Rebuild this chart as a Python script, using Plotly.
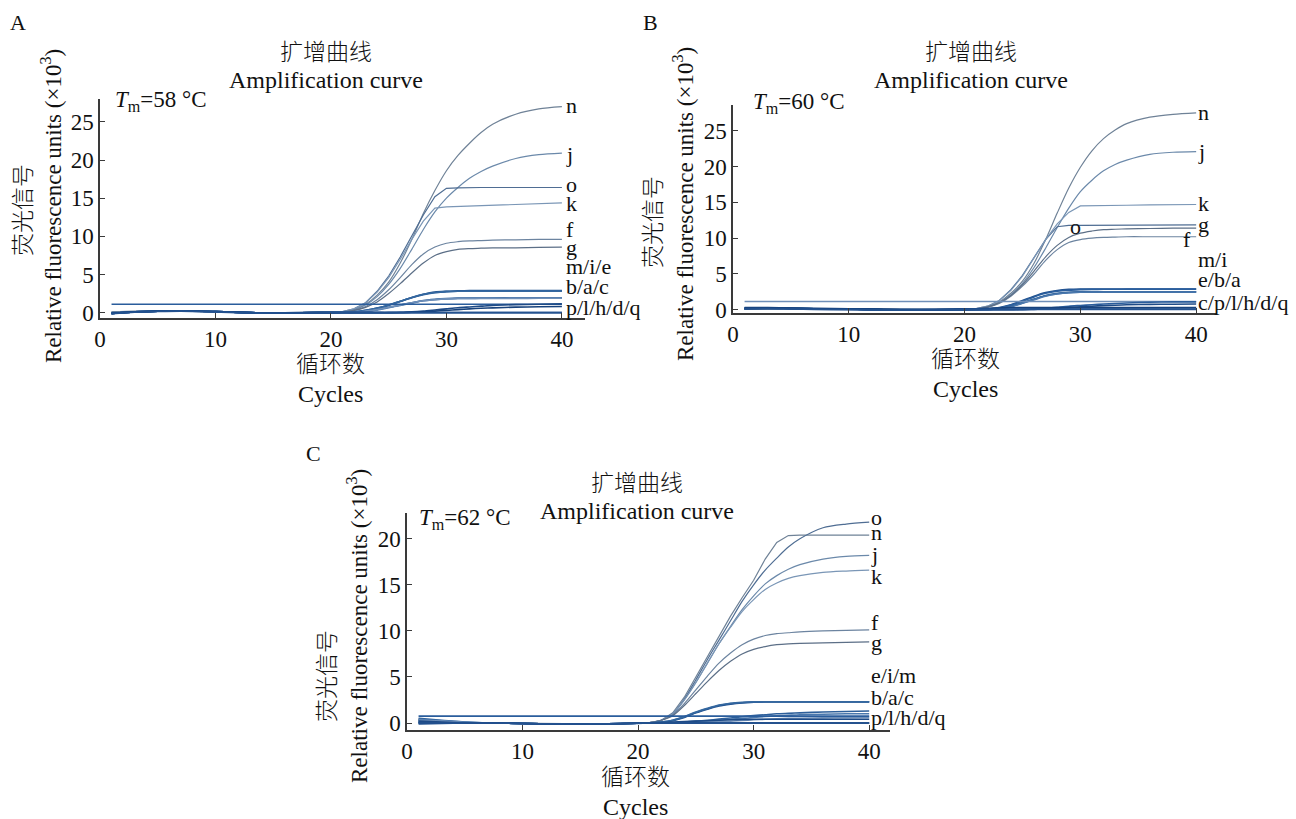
import plotly.graph_objects as go

# ---------------- data (relative fluorescence units, x10^3) ----------------
CYCLES = [1, 3, 5, 7, 10, 13, 16, 19, 21, 22, 23, 24, 25, 26, 27, 28, 29, 30, 31, 32, 33, 34, 36, 38, 40]

# Panel A  (Tm = 58 °C)
A_n = [0.1, 0.2, 0.2, 0.2, 0.1, 0.0, 0.0, 0.05, 0.1, 0.4, 1.1, 2.3, 4.0, 6.5, 9.6, 13.0, 16.0, 18.6, 20.6, 22.2, 23.6, 24.7, 26.0, 26.7, 27.0]
A_j = [0.1, 0.1, 0.2, 0.2, 0.1, 0.0, 0.0, 0.05, 0.1, 0.4, 1.0, 2.1, 3.7, 5.8, 8.3, 10.9, 13.2, 15.0, 16.4, 17.6, 18.5, 19.2, 20.2, 20.7, 20.9]
A_o = [0.0, 0.1, 0.2, 0.2, 0.1, 0.0, 0.0, 0.05, 0.15, 0.5, 1.3, 2.8, 4.8, 7.3, 10.0, 12.8, 15.2, 16.3, 16.35, 16.4, 16.4, 16.4, 16.4, 16.4, 16.4]
A_k = [0.0, 0.1, 0.2, 0.2, 0.1, 0.0, 0.0, 0.05, 0.15, 0.5, 1.3, 2.7, 4.6, 7.0, 9.6, 12.0, 13.7, 13.85, 13.9, 14.0, 14.05, 14.1, 14.2, 14.3, 14.4]
A_f = [0.0, 0.1, 0.2, 0.2, 0.1, 0.0, 0.0, 0.05, 0.1, 0.3, 0.8, 1.7, 3.0, 4.6, 6.3, 7.7, 8.6, 9.1, 9.3, 9.4, 9.45, 9.5, 9.55, 9.6, 9.6]
A_g = [0.0, 0.1, 0.2, 0.2, 0.1, 0.0, 0.0, 0.05, 0.1, 0.3, 0.7, 1.4, 2.5, 3.8, 5.2, 6.5, 7.5, 8.0, 8.3, 8.4, 8.45, 8.5, 8.5, 8.55, 8.6]
A_m = [-0.1, 0.1, 0.2, 0.25, 0.15, 0.0, -0.05, 0.0, 0.05, 0.1, 0.3, 0.6, 1.0, 1.5, 2.0, 2.4, 2.7, 2.8, 2.85, 2.9, 2.9, 2.9, 2.9, 2.9, 2.9]
A_i = [-0.1, 0.1, 0.2, 0.25, 0.15, 0.0, -0.05, 0.0, 0.05, 0.1, 0.25, 0.55, 0.95, 1.45, 1.95, 2.35, 2.6, 2.75, 2.8, 2.82, 2.84, 2.85, 2.85, 2.85, 2.85]
A_e = [-0.1, 0.1, 0.2, 0.25, 0.15, 0.0, -0.05, 0.0, 0.05, 0.1, 0.3, 0.6, 1.0, 1.5, 2.0, 2.4, 2.65, 2.75, 2.8, 2.8, 2.8, 2.8, 2.8, 2.8, 2.8]
A_b = [-0.1, 0.1, 0.2, 0.25, 0.15, 0.0, -0.05, 0.0, 0.05, 0.05, 0.2, 0.4, 0.7, 1.0, 1.3, 1.6, 1.75, 1.85, 1.9, 1.9, 1.9, 1.92, 1.94, 1.95, 1.95]
A_a = [-0.1, 0.1, 0.2, 0.25, 0.15, 0.0, -0.05, 0.0, 0.05, 0.05, 0.15, 0.35, 0.65, 0.95, 1.25, 1.55, 1.7, 1.8, 1.85, 1.87, 1.88, 1.9, 1.9, 1.9, 1.9]
A_c = [-0.1, 0.1, 0.2, 0.25, 0.15, 0.0, -0.05, 0.0, 0.05, 0.05, 0.2, 0.4, 0.7, 1.0, 1.3, 1.55, 1.7, 1.8, 1.85, 1.85, 1.85, 1.86, 1.87, 1.88, 1.88]
A_p = [1.1, 1.1, 1.1, 1.1, 1.1, 1.1, 1.1, 1.1, 1.1, 1.1, 1.1, 1.1, 1.1, 1.1, 1.1, 1.1, 1.1, 1.1, 1.1, 1.1, 1.1, 1.1, 1.1, 1.1, 1.1]
A_l = [-0.1, 0.1, 0.2, 0.25, 0.15, 0.0, -0.05, 0.0, 0.0, 0.0, 0.0, 0.0, 0.0, 0.05, 0.1, 0.2, 0.35, 0.5, 0.65, 0.75, 0.85, 0.95, 1.05, 1.1, 1.15]
A_h = [-0.1, 0.1, 0.2, 0.25, 0.15, 0.0, -0.05, 0.0, 0.0, 0.0, 0.0, 0.0, 0.0, 0.0, 0.05, 0.1, 0.2, 0.3, 0.4, 0.5, 0.57, 0.63, 0.72, 0.77, 0.8]
A_d = [-0.1, 0.1, 0.2, 0.25, 0.15, 0.0, -0.05, 0.0, 0.0, 0.0, 0.0, 0.0, 0.0, 0.0, 0.0, 0.0, 0.0, 0.0, 0.0, 0.0, 0.0, 0.0, 0.0, 0.0, 0.0]
A_q = [-0.15, 0.05, 0.15, 0.2, 0.1, -0.05, -0.05, -0.05, 0.0, 0.0, 0.0, 0.0, 0.0, 0.0, 0.0, 0.0, 0.0, 0.0, 0.0, 0.0, 0.0, 0.0, 0.0, 0.0, 0.0]

# Panel B  (Tm = 60 °C)
B_n = [0.1, 0.15, 0.2, 0.15, 0.1, 0.05, 0.0, 0.05, 0.1, 0.4, 1.1, 2.3, 4.0, 6.5, 9.8, 13.5, 17.0, 19.9, 22.2, 23.9, 25.1, 26.0, 26.9, 27.3, 27.5]
B_j = [0.1, 0.15, 0.2, 0.15, 0.1, 0.05, 0.0, 0.05, 0.1, 0.4, 1.0, 2.1, 3.7, 5.9, 8.6, 11.5, 14.2, 16.5, 18.1, 19.4, 20.3, 20.9, 21.7, 22.0, 22.1]
B_k = [0.1, 0.15, 0.2, 0.15, 0.1, 0.05, 0.0, 0.05, 0.15, 0.5, 1.3, 2.7, 4.7, 7.2, 9.8, 12.0, 13.6, 14.5, 14.55, 14.6, 14.6, 14.6, 14.65, 14.7, 14.7]
B_o = [0.1, 0.15, 0.2, 0.15, 0.1, 0.05, 0.0, 0.05, 0.15, 0.5, 1.3, 2.8, 4.8, 7.3, 9.8, 11.6, 11.8, 11.8, 11.8, 11.8, 11.8, 11.85, 11.85, 11.85, 11.85]
B_g = [0.1, 0.15, 0.2, 0.15, 0.1, 0.05, 0.0, 0.05, 0.1, 0.4, 1.0, 2.0, 3.5, 5.4, 7.4, 9.0, 10.1, 10.7, 11.0, 11.2, 11.25, 11.3, 11.35, 11.4, 11.4]
B_f = [0.1, 0.15, 0.2, 0.15, 0.1, 0.05, 0.0, 0.05, 0.1, 0.4, 0.9, 1.9, 3.3, 5.0, 6.9, 8.4, 9.4, 9.8, 10.0, 10.1, 10.15, 10.2, 10.2, 10.2, 10.2]
B_m = [0.2, 0.25, 0.2, 0.15, 0.1, 0.0, -0.05, 0.0, 0.05, 0.1, 0.3, 0.7, 1.3, 1.9, 2.4, 2.7, 2.85, 2.9, 2.9, 2.9, 2.9, 2.9, 2.9, 2.9, 2.9]
B_i = [0.2, 0.25, 0.2, 0.15, 0.1, 0.0, -0.05, 0.0, 0.05, 0.1, 0.25, 0.65, 1.2, 1.8, 2.3, 2.6, 2.75, 2.82, 2.85, 2.86, 2.87, 2.88, 2.88, 2.88, 2.88]
B_e = [0.2, 0.25, 0.2, 0.15, 0.1, 0.0, -0.05, 0.0, 0.05, 0.05, 0.2, 0.5, 1.0, 1.5, 2.0, 2.3, 2.45, 2.5, 2.5, 2.5, 2.5, 2.5, 2.5, 2.5, 2.5]
B_b = [0.2, 0.25, 0.2, 0.15, 0.1, 0.0, -0.05, 0.0, 0.05, 0.05, 0.2, 0.45, 0.95, 1.45, 1.95, 2.25, 2.4, 2.47, 2.5, 2.5, 2.5, 2.5, 2.5, 2.5, 2.5]
B_a = [0.2, 0.25, 0.2, 0.15, 0.1, 0.0, -0.05, 0.0, 0.05, 0.05, 0.15, 0.4, 0.9, 1.4, 1.9, 2.2, 2.38, 2.45, 2.48, 2.48, 2.48, 2.48, 2.48, 2.48, 2.48]
B_c = [1.15, 1.15, 1.15, 1.15, 1.15, 1.15, 1.15, 1.15, 1.15, 1.15, 1.15, 1.15, 1.15, 1.15, 1.15, 1.15, 1.15, 1.15, 1.15, 1.15, 1.15, 1.15, 1.15, 1.15, 1.15]
B_p = [0.2, 0.25, 0.2, 0.15, 0.1, 0.0, -0.05, 0.0, 0.0, 0.0, 0.0, 0.0, 0.05, 0.1, 0.2, 0.35, 0.5, 0.6, 0.7, 0.8, 0.88, 0.95, 1.05, 1.1, 1.1]
B_l = [0.2, 0.25, 0.2, 0.15, 0.1, 0.0, -0.05, 0.0, 0.0, 0.0, 0.0, 0.0, 0.0, 0.05, 0.1, 0.2, 0.3, 0.4, 0.5, 0.58, 0.64, 0.7, 0.75, 0.78, 0.8]
B_h = [0.3, 0.3, 0.25, 0.2, 0.15, 0.1, 0.05, 0.1, 0.15, 0.2, 0.25, 0.3, 0.3, 0.3, 0.3, 0.3, 0.3, 0.3, 0.3, 0.3, 0.3, 0.3, 0.3, 0.3, 0.3]
B_d = [0.15, 0.2, 0.15, 0.1, 0.05, 0.0, 0.0, 0.05, 0.1, 0.1, 0.1, 0.1, 0.1, 0.1, 0.1, 0.1, 0.1, 0.1, 0.1, 0.1, 0.1, 0.1, 0.1, 0.1, 0.1]
B_q = [0.1, 0.15, 0.1, 0.05, 0.0, -0.05, -0.05, 0.0, 0.05, 0.05, 0.05, 0.05, 0.05, 0.05, 0.05, 0.05, 0.05, 0.05, 0.05, 0.05, 0.05, 0.05, 0.05, 0.05, 0.05]

# Panel C  (Tm = 62 °C)
C_o = [0.4, 0.2, 0.05, 0.0, -0.05, -0.1, -0.1, -0.05, 0.05, 0.3, 1.0, 2.6, 4.7, 6.9, 9.0, 11.1, 13.2, 15.0, 16.6, 17.9, 19.1, 20.0, 21.2, 21.6, 21.8]
C_n = [0.3, 0.15, 0.0, 0.0, -0.05, -0.1, -0.1, -0.05, 0.05, 0.3, 1.1, 2.8, 5.0, 7.3, 9.4, 11.6, 13.6, 15.5, 17.8, 19.6, 20.35, 20.4, 20.4, 20.4, 20.4]
C_j = [0.3, 0.15, 0.0, 0.0, -0.05, -0.1, -0.1, -0.05, 0.05, 0.3, 1.0, 2.5, 4.4, 6.5, 8.6, 10.5, 12.3, 13.8, 15.1, 16.0, 16.7, 17.2, 17.8, 18.1, 18.2]
C_k = [0.3, 0.15, 0.0, 0.0, -0.05, -0.1, -0.1, -0.05, 0.05, 0.3, 1.0, 2.5, 4.4, 6.5, 8.6, 10.4, 12.1, 13.4, 14.5, 15.2, 15.7, 16.0, 16.35, 16.5, 16.6]
C_f = [0.3, 0.15, 0.0, 0.0, -0.05, -0.1, -0.1, -0.05, 0.05, 0.3, 0.9, 2.1, 3.6, 5.1, 6.5, 7.6, 8.5, 9.1, 9.5, 9.7, 9.8, 9.9, 10.0, 10.05, 10.1]
C_g = [0.3, 0.15, 0.0, 0.0, -0.05, -0.1, -0.1, -0.05, 0.05, 0.3, 0.8, 1.9, 3.2, 4.5, 5.7, 6.7, 7.5, 8.0, 8.3, 8.5, 8.6, 8.65, 8.7, 8.75, 8.8]
C_e = [0.1, 0.05, 0.0, 0.0, -0.05, -0.1, -0.1, -0.05, 0.0, 0.1, 0.3, 0.7, 1.2, 1.6, 1.95, 2.15, 2.25, 2.3, 2.3, 2.3, 2.3, 2.3, 2.3, 2.3, 2.3]
C_i = [0.1, 0.05, 0.0, 0.0, -0.05, -0.1, -0.1, -0.05, 0.0, 0.1, 0.3, 0.65, 1.15, 1.55, 1.9, 2.1, 2.2, 2.27, 2.3, 2.3, 2.3, 2.3, 2.3, 2.3, 2.3]
C_m = [0.1, 0.05, 0.0, 0.0, -0.05, -0.1, -0.1, -0.05, 0.0, 0.05, 0.25, 0.6, 1.1, 1.5, 1.85, 2.05, 2.18, 2.25, 2.28, 2.28, 2.28, 2.28, 2.28, 2.28, 2.28]
C_b = [0.5, 0.3, 0.1, 0.0, -0.05, -0.1, -0.1, -0.05, 0.0, 0.0, 0.05, 0.1, 0.2, 0.3, 0.42, 0.55, 0.68, 0.8, 0.9, 1.0, 1.05, 1.1, 1.2, 1.25, 1.3]
C_a = [0.4, 0.25, 0.1, 0.0, -0.05, -0.1, -0.1, -0.05, 0.0, 0.0, 0.0, 0.05, 0.1, 0.2, 0.3, 0.4, 0.5, 0.6, 0.7, 0.78, 0.84, 0.9, 0.95, 1.0, 1.0]
C_c = [0.3, 0.2, 0.05, 0.0, -0.05, -0.1, -0.1, -0.05, 0.0, 0.0, 0.0, 0.0, 0.05, 0.1, 0.15, 0.2, 0.28, 0.35, 0.4, 0.45, 0.5, 0.52, 0.56, 0.58, 0.6]
C_p = [0.75, 0.75, 0.75, 0.75, 0.75, 0.75, 0.75, 0.75, 0.75, 0.75, 0.75, 0.75, 0.75, 0.75, 0.75, 0.75, 0.75, 0.75, 0.75, 0.75, 0.75, 0.75, 0.75, 0.75, 0.75]
C_l = [0.2, 0.1, 0.0, 0.0, -0.05, -0.1, -0.1, -0.05, 0.0, 0.05, 0.1, 0.15, 0.2, 0.25, 0.3, 0.35, 0.38, 0.4, 0.4, 0.4, 0.4, 0.4, 0.4, 0.4, 0.4]
C_h = [0.0, 0.0, 0.0, 0.0, -0.05, -0.1, -0.1, -0.05, 0.0, 0.0, 0.0, 0.0, 0.0, 0.0, 0.0, 0.0, 0.0, 0.0, 0.0, 0.0, 0.0, 0.0, 0.0, 0.0, 0.0]
C_d = [-0.1, -0.05, 0.0, 0.0, -0.05, -0.1, -0.1, -0.05, 0.0, 0.0, 0.0, 0.0, 0.0, 0.0, 0.0, 0.0, 0.0, 0.0, 0.0, 0.0, 0.0, 0.0, 0.0, 0.0, 0.0]
C_q = [0.0, 0.0, 0.0, 0.0, -0.05, -0.1, -0.1, -0.05, 0.0, 0.0, 0.0, 0.0, 0.0, 0.0, 0.0, 0.0, 0.0, 0.0, 0.0, 0.0, 0.0, 0.0, 0.0, 0.0, 0.0]

# curve labels at the right end of each panel
A_LABELS = ["n", "j", "o", "k", "f", "g", "m/i/e", "b/a/c", "p/l/h/d/q"]
A_LABEL_Y = [27.2, 20.7, 16.8, 14.3, 10.9, 8.6, 6.0, 3.4, 0.65]
B_LABELS = ["n", "j", "k", "g", "m/i", "e/b/a", "c/p/l/h/d/q"]
B_LABEL_Y = [27.5, 22.1, 14.8, 11.9, 7.0, 4.2, 1.0]
C_LABELS = ["o", "n", "j", "k", "f", "g", "e/i/m", "b/a/c", "p/l/h/d/q"]
C_LABEL_Y = [22.3, 20.7, 18.3, 15.9, 10.9, 8.7, 5.2, 2.8, 0.65]
TM_VALUES = ["58", "60", "62"]

# ---------------- styles ----------------
SERIF = "Liberation Serif, Noto Sans CJK SC, serif"
BIG = {"n": "#6f8297", "j": "#6b89aa", "o": "#4f6d93", "k": "#7a96b6", "f": "#6c84a0", "g": "#5c6f87"}
LOW = {"m": "#1f4f8c", "i": "#2b5f9e", "e": "#35689f", "b": "#2d5f9a", "a": "#4a78ad", "c": "#6f8fb8",
       "p": "#2a5d9c", "l": "#1d4a86", "h": "#17427c", "d": "#1b4b8a", "q": "#24528f"}
KINKED = {("A", "o"), ("A", "k"), ("B", "o"), ("B", "k"), ("C", "n")}

panels = {
    "A": {"n": A_n, "j": A_j, "o": A_o, "k": A_k, "f": A_f, "g": A_g, "m": A_m, "i": A_i, "e": A_e,
          "b": A_b, "a": A_a, "c": A_c, "p": A_p, "l": A_l, "h": A_h, "d": A_d, "q": A_q},
    "B": {"n": B_n, "j": B_j, "o": B_o, "k": B_k, "f": B_f, "g": B_g, "m": B_m, "i": B_i, "e": B_e,
          "b": B_b, "a": B_a, "c": B_c, "p": B_p, "l": B_l, "h": B_h, "d": B_d, "q": B_q},
    "C": {"n": C_n, "j": C_j, "o": C_o, "k": C_k, "f": C_f, "g": C_g, "m": C_m, "i": C_i, "e": C_e,
          "b": C_b, "a": C_a, "c": C_c, "p": C_p, "l": C_l, "h": C_h, "d": C_d, "q": C_q},
}
axis_ids = {"A": ("x", "y"), "B": ("x2", "y2"), "C": ("x3", "y3")}

W, H = 1296, 819


def px(x):
    return x / W


def py(y):
    return 1 - y / H


fig = go.Figure()
for pname, curves in panels.items():
    xa, ya = axis_ids[pname]
    for cname, vals in curves.items():
        big = cname in BIG
        color = BIG[cname] if big else LOW[cname]
        shape = "linear" if (pname, cname) in KINKED else "spline"
        fig.add_trace(go.Scatter(
            x=CYCLES, y=vals, mode="lines", xaxis=xa, yaxis=ya,
            line=dict(color=color, width=1.2 if big else 1.6, shape=shape, smoothing=0.8),
            showlegend=False, hoverinfo="skip"))


def axis_style(domain, rng, tickvals, anchor):
    return dict(domain=domain, range=rng, tickvals=tickvals, anchor=anchor, automargin=False,
                showline=True, linecolor="#3a3a3a", linewidth=1.5, ticks="inside", ticklen=5,
                tickcolor="#3a3a3a", tickwidth=1.2, showgrid=False, zeroline=False,
                tickfont=dict(family=SERIF, size=23, color="#111"), fixedrange=True)


XT = [0, 10, 20, 30, 40]
fig.update_layout(
    template="none",
    xaxis=axis_style([px(100), px(585)], [0, 42], XT, "y"),
    yaxis=axis_style([py(318), py(99)], [-0.7, 28], [0, 5, 10, 15, 20, 25], "x"),
    xaxis2=axis_style([px(733), px(1217)], [0, 41.8], XT, "y2"),
    yaxis2=axis_style([py(313), py(105)], [-0.45, 28.6], [0, 5, 10, 15, 20, 25], "x2"),
    xaxis3=axis_style([px(407), px(890)], [0, 41.8], XT, "y3"),
    yaxis3=axis_style([py(730), py(513)], [-0.76, 22.8], [0, 5, 10, 15, 20], "x3"),
)

ann = []


def text(t, x, y, size=23, xanchor="center", angle=0, weight=None):
    f = dict(family=SERIF, size=size, color="#111")
    if weight:
        f["weight"] = weight
    ann.append(dict(text=t, x=px(x), y=py(y), xref="paper", yref="paper", showarrow=False,
                    xanchor=xanchor, yanchor="middle", textangle=angle, font=f))


# panel letters
text("A", 18, 22, 22)
text("B", 650, 22, 22)
text("C", 313, 453, 22)

# titles
for cx, cy in [(326, 52), (971, 52), (637, 483)]:
    text("扩增曲线", cx, cy, 23, weight=300)
    text("Amplification curve", cx, cy + 28, 24)

# Tm labels
for (lx, ly), tm in zip([(113, 101), (751, 103), (417, 519)], TM_VALUES):
    text("<i>T</i><sub>m</sub>=" + tm + " °C", lx, ly, 23, xanchor="left")

# y-axis titles
for (cjx, cjy), (enx, eny) in [((24, 210), (51, 206)), ((654, 222), (683, 204)), ((327, 676), (357, 626))]:
    text("荧光信号", cjx, cjy, 23, angle=-90, weight=300)
    text("Relative fluorescence units (×10<sup>3</sup>)", enx, eny, 23, angle=-90)

# x-axis titles
for cx, cy in [(330, 364), (965, 359), (635, 777)]:
    text("循环数", cx, cy, 23, weight=300)
    text("Cycles", cx, cy + 30, 24)

# curve labels
for (pname, labels, ys, x0) in [("A", A_LABELS, A_LABEL_Y, 40.2), ("B", B_LABELS, B_LABEL_Y, 40.0),
                                ("C", C_LABELS, C_LABEL_Y, 40.0)]:
    xa, ya = axis_ids[pname]
    for lab, yv in zip(labels, ys):
        ann.append(dict(text=lab, x=x0, y=yv, xref=xa, yref=ya, showarrow=False, xanchor="left",
                        yanchor="middle", font=dict(family=SERIF, size=22, color="#111")))

# in-plot labels of panel B
for lab, xv, yv in [("o", 29.6, 11.7), ("f", 39.2, 9.8)]:
    ann.append(dict(text=lab, x=xv, y=yv, xref="x2", yref="y2", showarrow=False, xanchor="center",
                    yanchor="middle", font=dict(family=SERIF, size=22, color="#111")))

fig.update_layout(
    annotations=ann,
    width=W, height=H, margin=dict(l=0, r=0, t=0, b=0, pad=0),
    paper_bgcolor="white", plot_bgcolor="white",
    hovermode=False, showlegend=False,
)

fig.write_html("out.html", config={"displayModeBar": False},
               post_script="document.body.style.margin='0px';document.body.style.padding='0px';")
